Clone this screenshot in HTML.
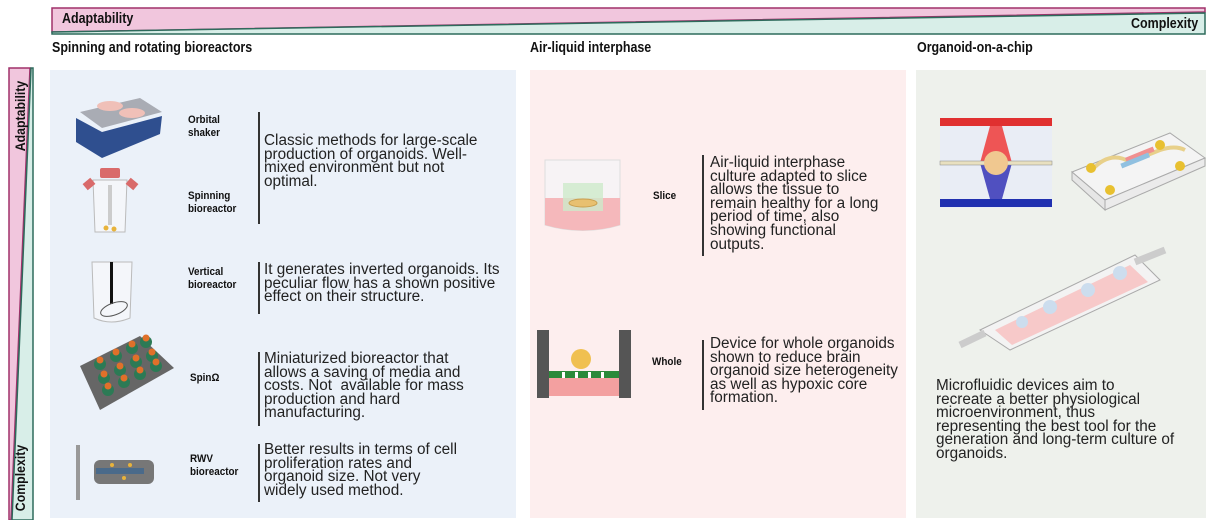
<!DOCTYPE html>
<html><head><meta charset="utf-8"><style>
body{margin:0;width:1208px;height:520px;background:#fff;position:relative;overflow:hidden;font-family:"Liberation Sans",sans-serif;color:#222}
.a{position:absolute}
.h{font-weight:bold;font-size:14.5px;color:#111;transform:scaleX(0.86);transform-origin:0 0;white-space:nowrap}
.vr{font-weight:bold;font-size:14px;color:#111;white-space:nowrap;position:absolute;text-align:center;line-height:16px}
.t{font-size:15.3px;line-height:13.6px;color:#222;white-space:nowrap}
.l{font-size:11px;font-weight:bold;line-height:13px;color:#111;transform:scaleX(0.9);transform-origin:0 0;white-space:nowrap}
</style></head><body>
<svg class="a" style="left:0;top:0" width="1208" height="520">
<polygon points="52,8 1205,8 1205,12 52,32" fill="#f1c6dd" stroke="#a0306a" stroke-width="1.5"/>
<polygon points="52,34 1205,34 1205,13 52,32" fill="#d8eee8" stroke="#2e6b5c" stroke-width="1.5"/>
<polygon points="9,68 30,68 11,520 9,520" fill="#f1c6dd" stroke="#a0306a" stroke-width="1.5"/>
<polygon points="31,68 33,68 33,520 12,520" fill="#d8eee8" stroke="#2e6b5c" stroke-width="1.5"/>
<rect x="50" y="70" width="466" height="448" fill="#ebf1f9"/>
<rect x="530" y="70" width="376" height="448" fill="#fdeeee"/>
<rect x="916" y="70" width="290" height="448" fill="#eef1ec"/>
<!-- orbital shaker -->
<polygon points="80,112 140,98 162,112 102,128" fill="#a9acb4"/>
<polygon points="76,118 102,132 162,116 160,134 102,158 76,142" fill="#2f4f8f"/>
<ellipse cx="110" cy="106" rx="13" ry="5" fill="#f0c0b8"/>
<ellipse cx="132" cy="113" rx="13" ry="5" fill="#f0c0b8"/>
<!-- spinning bioreactor -->
<rect x="100" y="168" width="20" height="10" rx="2" fill="#d96a6a"/>
<path d="M93,180 L127,180 L125,232 L95,232 Z" fill="#f4f6fa" stroke="#bbb"/>
<rect x="84" y="180" width="10" height="8" fill="#d96a6a" transform="rotate(-40 89 184)"/>
<rect x="127" y="180" width="10" height="8" fill="#d96a6a" transform="rotate(40 132 184)"/>
<rect x="108" y="185" width="4" height="40" fill="#ccc"/>
<circle cx="106" cy="228" r="2.5" fill="#e8b33b"/><circle cx="114" cy="229" r="2.5" fill="#e8b33b"/>
<!-- vertical -->
<path d="M92,262 L132,262 L130,318 Q111,326 94,318 Z" fill="#f4f6fa" stroke="#bbb"/>
<rect x="110" y="262" width="3" height="42" fill="#111"/>
<ellipse cx="114" cy="309" rx="14" ry="6" fill="none" stroke="#555" transform="rotate(-20 114 309)"/>
<!-- spin omega -->
<polygon points="80,366 140,336 174,368 100,410" fill="#666"/>
<g fill="#2c7a55"><circle cx="100" cy="364" r="6"/><circle cx="116" cy="356" r="6"/><circle cx="132" cy="348" r="6"/><circle cx="146" cy="342" r="6"/><circle cx="104" cy="378" r="6"/><circle cx="120" cy="370" r="6"/><circle cx="136" cy="362" r="6"/><circle cx="152" cy="356" r="6"/><circle cx="108" cy="390" r="6"/><circle cx="124" cy="382" r="6"/><circle cx="140" cy="374" r="6"/><circle cx="156" cy="366" r="6"/></g>
<g fill="#e0702a"><circle cx="100" cy="360" r="3.5"/><circle cx="116" cy="352" r="3.5"/><circle cx="132" cy="344" r="3.5"/><circle cx="146" cy="338" r="3.5"/><circle cx="104" cy="374" r="3.5"/><circle cx="120" cy="366" r="3.5"/><circle cx="136" cy="358" r="3.5"/><circle cx="152" cy="352" r="3.5"/><circle cx="108" cy="386" r="3.5"/><circle cx="124" cy="378" r="3.5"/><circle cx="140" cy="370" r="3.5"/><circle cx="156" cy="362" r="3.5"/></g>
<!-- RWV -->
<rect x="76" y="445" width="4" height="55" fill="#999"/>
<rect x="94" y="460" width="60" height="24" rx="6" fill="#777"/>
<rect x="96" y="468" width="48" height="6" fill="#4a6a8a"/>
<circle cx="112" cy="465" r="2" fill="#e8b33b"/><circle cx="130" cy="465" r="2" fill="#e8b33b"/><circle cx="124" cy="478" r="2" fill="#e8b33b"/>
<!-- slice -->
<path d="M545,160 L620,160 L620,225 Q583,236 545,225 Z" fill="#f7f3f5" stroke="#ddd"/>
<path d="M545,198 L620,198 L620,225 Q583,236 545,225 Z" fill="#f5b8bb"/>
<rect x="563" y="183" width="40" height="28" fill="#cdeacb" opacity=".8"/>
<ellipse cx="583" cy="203" rx="14" ry="4" fill="#e8c070" stroke="#c9a050"/>
<!-- whole -->
<rect x="537" y="330" width="12" height="68" fill="#555"/>
<rect x="619" y="330" width="12" height="68" fill="#555"/>
<rect x="549" y="372" width="70" height="24" fill="#f3a0a0"/>
<rect x="549" y="371" width="70" height="7" fill="#2a8a3a"/>
<g fill="#fff"><rect x="562" y="372" width="3" height="6"/><rect x="575" y="372" width="3" height="6"/><rect x="588" y="372" width="3" height="6"/><rect x="601" y="372" width="3" height="6"/></g>
<circle cx="581" cy="359" r="10" fill="#f0c050"/>
<!-- chip 1 -->
<rect x="940" y="118" width="112" height="90" fill="#e9edf5"/>
<rect x="940" y="118" width="112" height="8" fill="#e03030"/>
<rect x="940" y="199" width="112" height="8" fill="#2030b0"/>
<polygon points="990,126 1002,126 1012,163 996,182 980,163" fill="#e55"/>
<polygon points="980,163 1012,163 1002,199 990,199" fill="#5050c0"/>
<rect x="940" y="161" width="112" height="4" fill="#e8e0c0" stroke="#888" stroke-width=".5"/>
<circle cx="996" cy="163" r="12" fill="#f0c890"/>
<!-- chip 2 -->
<polygon points="1072,172 1170,133 1205,158 1105,200" fill="#f4f4f4" stroke="#aaa"/>
<polygon points="1072,172 1105,200 1105,210 1072,180" fill="#e6e6e6" stroke="#aaa"/>
<polygon points="1105,200 1205,158 1205,166 1105,210" fill="#ebebeb" stroke="#aaa"/>
<path d="M1092,170 Q1110,150 1130,162 L1160,150 Q1175,145 1185,150" stroke="#e8d08a" stroke-width="4" fill="none"/>
<rect x="1125" y="152" width="30" height="5" fill="#f09090" transform="rotate(-22 1140 155)"/>
<rect x="1120" y="158" width="30" height="5" fill="#90c0e0" transform="rotate(-22 1135 160)"/>
<circle cx="1091" cy="168" r="5" fill="#e8c030"/><circle cx="1110" cy="190" r="5" fill="#e8c030"/><circle cx="1160" cy="145" r="5" fill="#e8c030"/><circle cx="1180" cy="166" r="5" fill="#e8c030"/>
<!-- chip 3 -->
<polygon points="980,330 1135,255 1160,280 1010,350" fill="#f3f3f3" stroke="#aaa"/>
<polygon points="995,330 1130,265 1148,282 1012,345" fill="#f7c9c9"/>
<line x1="960" y1="345" x2="985" y2="333" stroke="#ccc" stroke-width="7"/>
<line x1="1165" y1="250" x2="1135" y2="262" stroke="#ccc" stroke-width="7"/>
<circle cx="1050" cy="307" r="7" fill="#cde"/><circle cx="1088" cy="290" r="7" fill="#cde"/><circle cx="1120" cy="273" r="7" fill="#cde"/><circle cx="1022" cy="322" r="6" fill="#cde"/>
</svg>
<div class="a h" style="left:62px;top:11px">Adaptability</div>
<div class="a h" style="left:1131px;top:16px">Complexity</div>
<div class="a h" style="left:52px;top:40px">Spinning and rotating bioreactors</div>
<div class="a h" style="left:530px;top:40px">Air-liquid interphase</div>
<div class="a h" style="left:917px;top:40px">Organoid-on-a-chip</div>
<div class="vr" style="left:-25px;top:108px;width:90px;transform:rotate(-90deg) scaleX(0.88)">Adaptability</div>
<div class="vr" style="left:-25px;top:470px;width:90px;transform:rotate(-90deg) scaleX(0.88)">Complexity</div>

<div class="a l" style="left:188px;top:114px">Orbital<br>shaker</div>
<div class="a l" style="left:188px;top:190px">Spinning<br>bioreactor</div>
<div class="a l" style="left:188px;top:266px">Vertical<br>bioreactor</div>
<div class="a l" style="left:190px;top:372px">SpinΩ</div>
<div class="a l" style="left:190px;top:453px">RWV<br>bioreactor</div>
<div class="a l" style="left:653px;top:190px">Slice</div>
<div class="a l" style="left:652px;top:356px">Whole</div>

<div class="a" style="left:258px;top:112px;width:1.5px;height:112px;background:#333"></div>
<div class="a" style="left:258px;top:262px;width:1.5px;height:52px;background:#333"></div>
<div class="a" style="left:258px;top:352px;width:1.5px;height:74px;background:#333"></div>
<div class="a" style="left:258px;top:444px;width:1.5px;height:58px;background:#333"></div>
<div class="a" style="left:702px;top:155px;width:1.5px;height:101px;background:#333"></div>
<div class="a" style="left:702px;top:340px;width:1.5px;height:70px;background:#333"></div>

<div class="a t" style="left:264px;top:134px">Classic methods for large-scale<br>production of organoids. Well-<br>mixed environment but not<br>optimal.</div>
<div class="a t" style="left:264px;top:263px">It generates inverted organoids. Its<br>peculiar flow has a shown positive<br>effect on their structure.</div>
<div class="a t" style="left:264px;top:352px">Miniaturized bioreactor that<br>allows a saving of media and<br>costs. Not&nbsp; available for mass<br>production and hard<br>manufacturing.</div>
<div class="a t" style="left:264px;top:443px">Better results in terms of cell<br>proliferation rates and<br>organoid size. Not very<br>widely used method.</div>
<div class="a t" style="left:710px;top:156px">Air-liquid interphase<br>culture adapted to slice<br>allows the tissue to<br>remain healthy for a long<br>period of time, also<br>showing functional<br>outputs.</div>
<div class="a t" style="left:710px;top:337px">Device for whole organoids<br>shown to reduce brain<br>organoid size heterogeneity<br>as well as hypoxic core<br>formation.</div>
<div class="a t" style="left:936px;top:379px">Microfluidic devices aim to<br>recreate a better physiological<br>microenvironment, thus<br>representing the best tool for the<br>generation and long-term culture of<br>organoids.</div>
</body></html>
